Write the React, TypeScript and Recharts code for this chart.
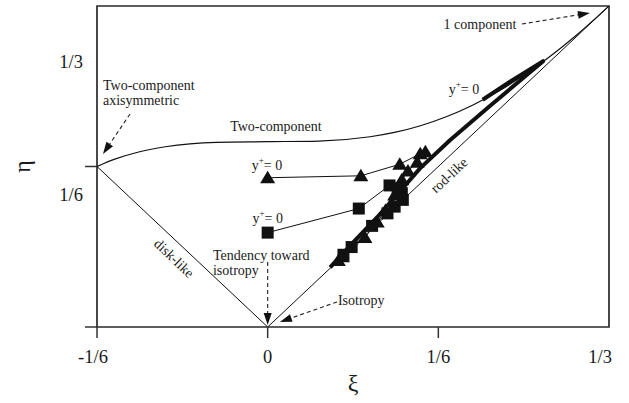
import React from 'react';
import {
  ComposedChart,
  Line,
  XAxis,
  YAxis,
  ReferenceArea,
  ReferenceLine,
  ReferenceDot,
  Label,
} from 'recharts';

const FONT = '"Liberation Serif", "DejaVu Serif", "Times New Roman", serif';
const INK = '#1a1a1a';

// Axis ticks
const xTickValues = [-1 / 6, 0, 1 / 6, 1 / 3];
const xTickLabels = ['-1/6', '0', '1/6', '1/3'];
const yTickValues = [0, 1 / 6, 1 / 3];
const yTickLabels = ['', '1/6', '1/3'];

// Upper boundary: two-component limit
const twoCompXi = [-1 / 6, -0.16, -0.15, -0.125, -0.1, -0.05, 0, 0.05, 0.1, 0.125, 0.15, 0.175, 0.2, 0.225, 0.25, 0.275, 0.3, 0.3125, 1 / 3];
const twoCompEta = [1 / 6, 0.16984, 0.17403, 0.18202, 0.18718, 0.1918, 0.19245, 0.1931, 0.19758, 0.20234, 0.20925, 0.21853, 0.2303, 0.24458, 0.26132, 0.28041, 0.30172, 0.31317, 1 / 3];

// Axisymmetric boundaries
const diskXi = [-1 / 6, 0];
const diskEta = [1 / 6, 0];
const rodXi = [0, 1 / 3];
const rodEta = [0, 1 / 3];

// Continuous profile (wall -> tip -> channel centre)
const profileXi = [0.21, 0.237, 0.269, 0.246, 0.217, 0.178, 0.149, 0.107, 0.08, 0.061];
const profileEta = [0.236, 0.255, 0.276, 0.2555, 0.2295, 0.194, 0.165, 0.114, 0.084, 0.062];

// Triangle series (starting at y+ = 0)
const triXi = [0.0, 0.091, 0.129, 0.149, 0.154, 0.146, 0.137, 0.131, 0.124, 0.115, 0.107, 0.095, 0.073, 0.069];
const triEta = [0.155, 0.157, 0.169, 0.18, 0.182, 0.171, 0.162, 0.153, 0.137, 0.121, 0.109, 0.093, 0.073, 0.069];

// Square series (starting at y+ = 0)
const sqXi = [0.0, 0.089, 0.119, 0.127, 0.131, 0.132, 0.124, 0.117, 0.102, 0.082, 0.074];
const sqEta = [0.098, 0.123, 0.147, 0.144, 0.139, 0.132, 0.125, 0.118, 0.105, 0.083, 0.075];

const zip = (xs: number[], ys: number[]) => xs.map((xi, i) => ({ xi, eta: ys[i] }));

const twoCompData = zip(twoCompXi, twoCompEta);
const diskData = zip(diskXi, diskEta);
const rodData = zip(rodXi, rodEta);
const profileData = zip(profileXi, profileEta);
const triData = zip(triXi, triEta);
const sqData = zip(sqXi, sqEta);

// Annotation arrows: [start, tip] in (xi, eta)
const arrows = [
  { from: { x: 0.2483, y: 0.3146 }, to: { x: 0.3147, y: 0.3261 } },
  { from: { x: -0.1344, y: 0.2212 }, to: { x: -0.1608, y: 0.1797 } },
  { from: { x: 0.0, y: 0.0675 }, to: { x: 0.0, y: 0.002 } },
  { from: { x: 0.0677, y: 0.026 }, to: { x: 0.012, y: 0.0052 } },
];

const textStyle = { fontFamily: FONT, fontSize: 14, fill: INK } as const;
const tickStyle = { fontFamily: FONT, fontSize: 18.5, fill: INK } as const;

const XTick = (props: any) => {
  const { x, y, payload, index } = props;
  const isLast = index === xTickValues.length - 1;
  const label = xTickLabels[xTickValues.indexOf(payload.value)];
  const shift = label.startsWith('-') ? -4 : 0;
  return (
    <g>
      {!isLast && <line x1={x} y1={y} x2={x} y2={y + 11} stroke="#333" strokeWidth={1.5} />}
      <text
        x={isLast ? x + 3 : x + shift}
        y={y + 30}
        textAnchor={isLast ? 'end' : 'middle'}
        dominantBaseline="central"
        style={tickStyle}
      >
        {label}
      </text>
    </g>
  );
};

// Tick labels on the eta axis sit below their tick marks
const Y_LABEL_DROP: Record<string, number> = { '1/6': 28, '1/3': 56 };

const YTick = (props: any) => {
  const { x, y, payload } = props;
  const label = yTickLabels[yTickValues.indexOf(payload.value)];
  const hasMark = payload.value < 0.3;
  return (
    <g>
      {hasMark && <line x1={x - 12} y1={y} x2={x} y2={y} stroke="#333" strokeWidth={1.5} />}
      {label && (
        <text
          x={x - 14}
          y={y + (Y_LABEL_DROP[label] || 0)}
          textAnchor="end"
          dominantBaseline="central"
          style={tickStyle}
        >
          {label}
        </text>
      )}
    </g>
  );
};

const triangleDot = (p: any) => {
  const { cx, cy, index } = p;
  if (cx == null || cy == null) return <g key={`t${index}`} />;
  return (
    <polygon
      key={`t${index}`}
      points={`${cx},${cy - 7} ${cx + 7.5},${cy + 5.5} ${cx - 7.5},${cy + 5.5}`}
      fill="#111"
    />
  );
};

const squareDot = (p: any) => {
  const { cx, cy, index } = p;
  if (cx == null || cy == null) return <g key={`s${index}`} />;
  return <rect key={`s${index}`} x={cx - 6} y={cy - 6} width={12} height={12} fill="#111" />;
};

const ArrowShape = (p: any) => {
  const { x1, y1, x2, y2 } = p;
  const dx = x2 - x1;
  const dy = y2 - y1;
  const len = Math.sqrt(dx * dx + dy * dy) || 1;
  const ux = dx / len;
  const uy = dy / len;
  const headLen = 12;
  const headHalf = 4;
  const bx = x2 - ux * headLen;
  const by = y2 - uy * headLen;
  return (
    <g>
      <line x1={x1} y1={y1} x2={bx} y2={by} stroke="#222" strokeWidth={1.1} strokeDasharray="4 3" />
      <polygon
        points={`${x2},${y2} ${bx - uy * headHalf},${by + ux * headHalf} ${bx + uy * headHalf},${by - ux * headHalf}`}
        fill="#111"
      />
    </g>
  );
};

const textAt = (lines: React.ReactNode[], anchor: 'start' | 'middle' | 'end' = 'middle', rotate = 0) =>
  (p: any) => {
    const { cx, cy } = p;
    return (
      <text
        x={cx}
        y={cy}
        textAnchor={anchor}
        dominantBaseline="central"
        transform={rotate ? `rotate(${rotate}, ${cx}, ${cy})` : undefined}
        style={textStyle}
      >
        {lines.map((ln, i) => (
          <tspan key={i} x={cx} dy={i === 0 ? 0 : 15}>
            {ln}
          </tspan>
        ))}
      </text>
    );
  };

const yPlusZero = (p: any) => {
  const { cx, cy } = p;
  return (
    <text x={cx} y={cy} textAnchor="middle" dominantBaseline="central" style={textStyle}>
      <tspan>y</tspan>
      <tspan dy={-5} fontSize={9}>+</tspan>
      <tspan dy={5}>= 0</tspan>
    </text>
  );
};

const annotations = [
  { x: 0.2073, y: 0.3146, shape: textAt(['1 component']) },
  { x: 0.0081, y: 0.2087, shape: textAt(['Two-component']) },
  { x: -0.1608, y: 0.2513, shape: textAt(['Two-component', 'axisymmetric'], 'start') },
  { x: -0.0007, y: 0.1682, shape: yPlusZero },
  { x: 0.0, y: 0.1132, shape: yPlusZero },
  { x: 0.1917, y: 0.2471, shape: yPlusZero },
  { x: -0.0534, y: 0.0748, shape: textAt(['Tendency toward', 'isotropy'], 'start') },
  { x: 0.0686, y: 0.028, shape: textAt(['Isotropy'], 'start') },
  { x: -0.0912, y: 0.0716, shape: textAt(['disk-like'], 'middle', 43.5) },
  { x: 0.177, y: 0.1578, shape: textAt(['rod-like'], 'middle', -43) },
];

const XiLabel = (props: any) => {
  const { viewBox } = props;
  return (
    <text
      x={viewBox.x + viewBox.width / 2}
      y={viewBox.y + 56}
      textAnchor="middle"
      dominantBaseline="central"
      style={{ fontFamily: FONT, fontSize: 24, fill: INK }}
    >
      ξ
    </text>
  );
};

const EtaLabel = (props: any) => {
  const { viewBox } = props;
  const cx = 22;
  const cy = viewBox.y + viewBox.height / 2;
  return (
    <text
      x={cx}
      y={cy}
      textAnchor="middle"
      dominantBaseline="central"
      transform={`rotate(-90, ${cx}, ${cy})`}
      style={{ fontFamily: FONT, fontSize: 24, fill: INK }}
    >
      η
    </text>
  );
};

export default function App() {
  return (
    <div style={{ position: 'absolute', left: 0, top: 0, background: '#fff' }}>
      <ComposedChart width={629} height={403} margin={{ top: 6, right: 20, bottom: 0, left: 0 }}>
        <XAxis
          type="number"
          dataKey="xi"
          domain={[-1 / 6, 1 / 3]}
          ticks={xTickValues}
          tick={<XTick />}
          tickLine={false}
          axisLine={false}
          tickSize={0}
          tickMargin={0}
          height={76}
          allowDataOverflow
          interval={0}
        >
          <Label content={<XiLabel />} />
        </XAxis>
        <YAxis
          type="number"
          dataKey="eta"
          domain={[0, 1 / 3]}
          ticks={yTickValues}
          tick={<YTick />}
          tickLine={false}
          axisLine={false}
          tickSize={0}
          tickMargin={0}
          width={97}
          allowDataOverflow
          interval={0}
        >
          <Label content={<EtaLabel />} />
        </YAxis>

        <ReferenceArea x1={-1 / 6} x2={1 / 3} y1={0} y2={1 / 3} fill="none" stroke="#2a2a2a" strokeWidth={1.7} ifOverflow="visible" />

        <Line data={twoCompData} dataKey="eta" type="monotone" stroke="#111" strokeWidth={1.2} dot={false} isAnimationActive={false} />
        <Line data={diskData} dataKey="eta" type="linear" stroke="#111" strokeWidth={1} dot={false} isAnimationActive={false} />
        <Line data={rodData} dataKey="eta" type="linear" stroke="#111" strokeWidth={1} dot={false} isAnimationActive={false} />

        <Line data={profileData} dataKey="eta" type="linear" stroke="#111" strokeWidth={4} strokeLinejoin="round" dot={false} isAnimationActive={false} />

        <Line data={triData} dataKey="eta" type="linear" stroke="#111" strokeWidth={1} dot={triangleDot} isAnimationActive={false} />
        <Line data={sqData} dataKey="eta" type="linear" stroke="#111" strokeWidth={1} dot={squareDot} isAnimationActive={false} />

        {arrows.map((a, i) => (
          <ReferenceLine key={`a${i}`} segment={[a.from, a.to]} ifOverflow="visible" shape={ArrowShape} />
        ))}
        {annotations.map((a, i) => (
          <ReferenceDot key={`n${i}`} x={a.x} y={a.y} r={1} ifOverflow="visible" shape={a.shape} />
        ))}
      </ComposedChart>
    </div>
  );
}
